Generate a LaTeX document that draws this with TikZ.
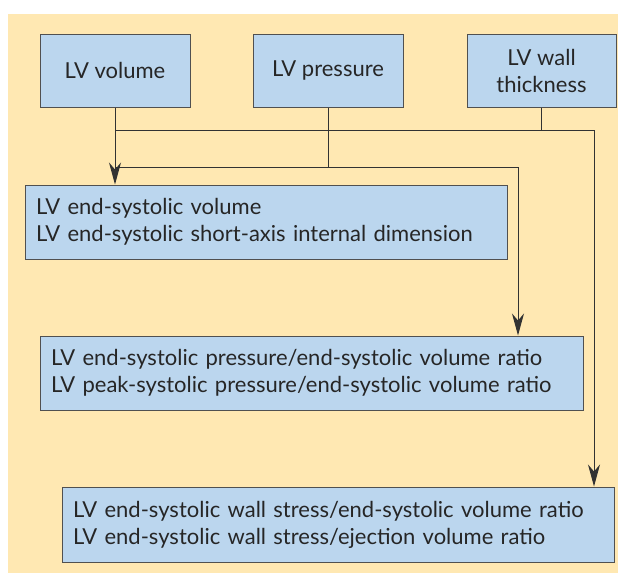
\documentclass[tikz,border=0pt]{standalone}
\usepackage{fontspec}
\setmainfont{Lato}
\usepackage{tikz}
\usetikzlibrary{arrows.meta}
\definecolor{bgpanel}{RGB}{255,232,178}
\definecolor{boxfill}{RGB}{187,214,238}
\definecolor{boxline}{RGB}{80,80,80}
\definecolor{wire}{RGB}{50,50,50}
\tikzstyle{box} = [draw=boxline,fill=boxfill,line width=1pt,inner sep=0pt,font=\fontsize{22}{27}\selectfont,text=black!85]
\tikzstyle{topbox} = [box,minimum height=73pt,align=center]
\tikzstyle{listbox} = [box,minimum height=74pt,inner xsep=11pt,align=left]
\tikzstyle{wireline} = [draw=wire,line width=1pt]
\tikzstyle{flow} = [wireline,-{Stealth[length=22pt,width=12pt,inset=7pt]}]

\begin{document}
\begin{tikzpicture}[x=1pt,y=-1pt]
		\useasboundingbox (0,0) rectangle (618,573);
		\fill[bgpanel] (8,14) rectangle (618,573);
		% inputs
		\node[topbox,minimum width=150pt] (volume) at (115,70.5) {LV volume};
		\node[topbox,minimum width=150pt] (pressure) at (328,70.5) {LV pressure};
		\node[topbox,minimum width=149pt] (wall) at (541.5,70.5) {LV wall\\thickness};
		% indices
		\node[listbox,text width=460pt] (esv) at (266,222) {LV end-systolic volume\\LV end-systolic short-axis internal dimension};
		\node[listbox,text width=521pt] (ratio) at (311.5,373) {LV end-systolic pressure/end-systolic volume ratio\\LV peak-systolic pressure/end-systolic volume ratio};
		\node[listbox,minimum height=75pt,text width=530pt] (stress) at (338,524.5) {LV end-systolic wall stress/end-systolic volume ratio\\LV end-systolic wall stress/ejection volume ratio};
		% buses
		\coordinate (busA) at (594,130);
		\coordinate (busB) at (518,167);
		\draw[wireline] (volume.south |- busA) -- (busA);
		\draw[wireline] (wall.south) -- (wall.south |- busA);
		\draw[wireline] (volume.south |- busB) -- (busB);
		\draw[wireline] (pressure.south) -- (pressure.south |- busB);
		\draw[flow] (volume.south) -- (volume.south |- esv.north);
		\draw[flow] (busB) -- (busB |- ratio.north);
		\draw[flow] (busA) -- (busA |- stress.north);
	\end{tikzpicture}
\end{document}
